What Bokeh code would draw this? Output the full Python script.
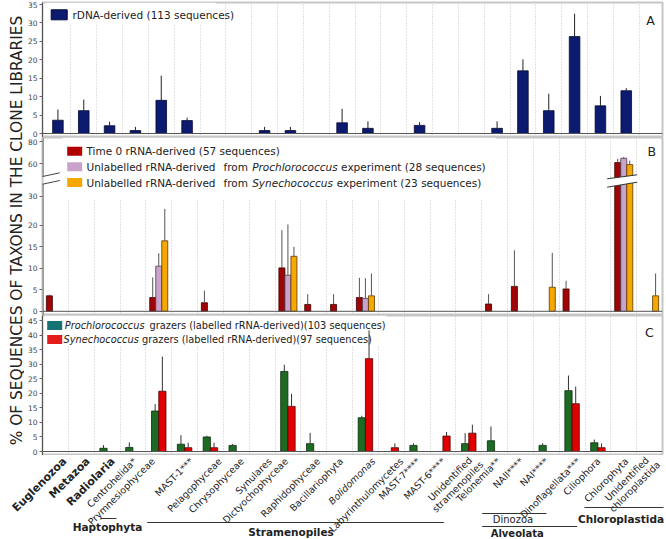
import numpy as np
from bokeh.plotting import figure
from bokeh.layouts import column, row
from bokeh.models import Range1d, FixedTicker, ColumnDataSource, Span, Grid
from bokeh.core.properties import value
from bokeh.embed import file_html
from bokeh.resources import INLINE

# ---------------- data ----------------
categories = ["Euglenozoa", "Metazoa", "Radiolaria", "Centrohelida*", "Prymnesiophyceae",
              "MAST-1***", "Pelagophyceae", "Chrysophyceae", "Synulares", "Dictyochophyceae",
              "Raphidophyceae", "Bacillariophyta", "Bolidomonas", "Labyrinthulomycetes",
              "MAST-7****", "MAST-6****", "Unidentified\nstramenopiles", "Telonemia**",
              "NAII****", "NAI****", "Dinoflagellata***", "Ciliophora", "Chlorophyta",
              "Unidentified\nchloroplastida"]
bold_labels = ["Euglenozoa", "Metazoa", "Radiolaria"]
italic_labels = ["Bolidomonas"]

rdna_mean = [3.6, 6.2, 2.1, 0.8, 9.0, 3.5, 0, 0, 0.8, 0.8, 0, 2.9, 1.4, 0, 2.2, 0, 0, 1.4, 17.0, 6.2, 26.3, 7.5, 11.6, 0]
rdna_sd = [2.9, 3.0, 1.1, 1.0, 6.7, 0.8, 0, 0, 1.0, 1.0, 0, 3.8, 1.9, 0, 0.9, 0, 0, 1.9, 3.1, 4.6, 6.2, 2.7, 0.7, 0]

time0_mean = [3.6, 0, 0, 0, 3.2, 0, 2.0, 0, 0, 10.1, 1.6, 1.6, 3.2, 0, 0, 0, 0, 1.7, 5.8, 0, 5.2, 0, 60.9, 0]
time0_sd = [0.3, 0, 0, 0, 4.7, 0, 2.8, 0, 0, 8.8, 2.4, 2.4, 4.6, 0, 0, 0, 0, 2.3, 8.4, 0, 1.9, 0, 3.6, 0]
unl_pro_mean = [0, 0, 0, 0, 10.5, 0, 0, 0, 0, 8.4, 0, 0, 3.0, 0, 0, 0, 0, 0, 0, 0, 0, 0, 64.8, 0]
unl_pro_sd = [0, 0, 0, 0, 3.0, 0, 0, 0, 0, 11.9, 0, 0, 4.7, 0, 0, 0, 0, 0, 0, 0, 0, 0, 1.2, 0]
unl_syn_mean = [0, 0, 0, 0, 16.4, 0, 0, 0, 0, 12.8, 0, 0, 3.6, 0, 0, 0, 0, 0, 0, 5.6, 0, 0, 59.1, 3.6]
unl_syn_sd = [0, 0, 0, 0, 9.3, 0, 0, 0, 0, 2.2, 0, 0, 5.2, 0, 0, 0, 0, 0, 0, 8.0, 0, 0, 3.6, 5.2]

graz_pro_mean = [0, 0, 1.1, 1.4, 13.9, 2.5, 5.0, 2.1, 0, 27.5, 2.7, 0, 11.6, 0, 2.1, 0, 2.7, 3.7, 0, 2.1, 20.9, 3.0, 0, 0]
graz_pro_sd = [0, 0, 1.1, 1.7, 2.4, 3.1, 0.4, 0.5, 0, 2.3, 3.7, 0, 0.7, 0, 0.7, 0, 3.6, 4.9, 0, 0.7, 5.2, 1.1, 0, 0]
graz_syn_mean = [0, 0, 0, 0, 20.7, 1.3, 1.3, 0, 0, 15.5, 0, 0, 31.9, 1.3, 0, 5.3, 6.3, 0, 0, 0, 16.4, 1.3, 0, 0]
graz_syn_sd = [0, 0, 0, 0, 11.9, 1.7, 1.7, 0, 0, 4.3, 0, 0, 9.7, 1.5, 0, 1.4, 2.9, 0, 0, 0, 5.9, 1.5, 0, 0]

ticks_A = [0, 5, 10, 15, 20, 25, 30, 35]
ticks_B = [0, 5, 10, 15, 20, 30, 60, 80]
ticks_C = [0, 5, 10, 15, 20, 25, 30, 35, 40, 45]

y_title = "% OF SEQUENCES OF TAXONS IN THE CLONE LIBRARIES"

# broken axis of panel B (value -> display units)
B_KNOTS_V = [0, 20, 30, 60, 80]
B_KNOTS_D = [0, 86.7, 116, 149, 171.3]


def bmap(v):
    return float(np.interp(v, B_KNOTS_V, B_KNOTS_D))


FONT = "DejaVu Sans"
FW = 620                 # frame width (px)
CW = FW / 24.0           # px per category
XL = 42                  # frame left (px in page)
TW = 24                  # width of the title strip


def txt(p, x, y, s, size, style="normal", align="left", color="#222222", baseline="middle", angle=0.0, px=True):
    kw = dict(x_range_name="px", y_range_name="px") if px else {}
    p.text(x=[x], y=[y], text=[s], angle=angle, text_font=value(FONT), text_font_size=value(size),
           text_font_style=value(style), text_align=value(align), text_baseline=value(baseline),
           text_color=color, **kw)


def make_panel(h, top_border, fh, xr, yr, ticks, overrides=None, axis_line=True):
    p = figure(width=664 - TW, height=h, x_range=xr, y_range=yr, output_backend="svg",
               toolbar_location=None, x_axis_location=None, y_axis_location="left",
               min_border_left=XL - TW, min_border_right=2, min_border_top=top_border, min_border_bottom=0)
    p.extra_x_ranges = {"px": Range1d(0, FW)}
    p.extra_y_ranges = {"px": Range1d(0, fh)}
    p.grid.visible = False
    p.add_layout(Grid(dimension=0, ticker=FixedTicker(ticks=list(range(1, 24))),
                      grid_line_color="#c4c4c4", grid_line_dash="1 2", grid_line_width=1))
    ya = p.yaxis[0]
    ya.ticker = FixedTicker(ticks=ticks)
    if overrides:
        ya.major_label_overrides = overrides
    ya.major_label_text_font = FONT
    ya.major_label_text_font_size = "7.5px"
    ya.major_label_text_color = "#444444"
    ya.minor_tick_line_color = None
    ya.major_tick_in = 0
    ya.major_tick_out = 3
    ya.major_tick_line_color = "#666666"
    ya.major_label_standoff = 2
    ya.axis_line_color = "#555555" if axis_line else None
    p.outline_line_color = "#c6c6c6"
    p.outline_line_width = 2
    p.background_fill_color = "white"
    p.border_fill_color = "white"
    p.add_layout(Span(location=0, dimension="width", line_color="#555555", line_width=1))
    return p


def bars(p, off, width, means, sds, fill, line, err, f=lambda v: v):
    idx = [i for i, m in enumerate(means) if m > 0]
    src = ColumnDataSource(dict(x=[i + 0.5 + off for i in idx],
                                top=[f(means[i]) for i in idx],
                                etop=[f(means[i] + sds[i]) for i in idx]))
    p.vbar(x="x", width=width, top="top", bottom=0, source=src, fill_color=fill,
           line_color=line, line_width=0.8)
    p.segment(x0="x", y0="top", x1="x", y1="etop", source=src, line_color=err, line_width=1)


def quad_px(p, l, r, t, b, fill, line=None):
    p.quad(left=[l], right=[r], top=[t], bottom=[b], fill_color=fill, line_color=line,
           x_range_name="px", y_range_name="px")


# ---------------- panel A (page y 2..137) ----------------
ppuA = 129 / 35
pA = make_panel(137, 2, 135, Range1d(-0.097, 23.903), Range1d(-4 / ppuA, 35 + 2 / ppuA), ticks_A)
A0 = 137  # page y of frame bottom
quad_px(pA, 45 - XL, 215 - XL, 135, A0 - 24.5, "white")
bars(pA, 0, 0.41, rdna_mean, rdna_sd, "#0c1a70", "#050a30", "#222222")
quad_px(pA, 50.7 - XL, 66.7 - XL, A0 - 9.3, A0 - 19.3, "#0c1a70", "#050a30")
txt(pA, 72 - XL, A0 - 14.5, "rDNA-derived (113 sequences)", "10.5px")
txt(pA, 650 - XL, A0 - 19.5, "A", "12.5px", align="center")

# ---------------- panel B (page y 137..315) ----------------
B0 = 315
ppuB = 169.8 / 171.3
tb = [round(bmap(t), 3) for t in ticks_B]
pB = make_panel(178, 0, 178, Range1d(0, 24), Range1d(-4.2 / ppuB, 171.3 + 4.0 / ppuB), tb,
                overrides={v: str(t) for v, t in zip(tb, ticks_B)}, axis_line=False)
quad_px(pB, 62 - XL, 495 - XL, 178, B0 - 198, "white")
bars(pB, -0.233, 0.233, time0_mean, time0_sd, "#a10404", "#3a0000", "#555555", bmap)
bars(pB, 0.0, 0.233, unl_pro_mean, unl_pro_sd, "#c9a3c9", "#4a3a4a", "#555555", bmap)
bars(pB, 0.233, 0.233, unl_syn_mean, unl_syn_sd, "#f6a800", "#5a3a00", "#555555", bmap)
# break on the tall bars
pB.patch(x=[606.7 - XL, 636.7 - XL, 636.7 - XL, 606.7 - XL],
         y=[B0 - 178.3, B0 - 174.3, B0 - 181.7, B0 - 186.7],
         fill_color="white", line_color=None, x_range_name="px", y_range_name="px")
pB.segment(x0=[606.7 - XL, 606.7 - XL], y0=[B0 - 178.3, B0 - 186.7], x1=[636.7 - XL, 636.7 - XL],
           y1=[B0 - 174.3, B0 - 181.7], line_color="#333333", line_width=1,
           x_range_name="px", y_range_name="px")
# axis line with break
pB.segment(x0=[0.5, 0.5], y0=[0, B0 - 176.0], x1=[0.5, 0.5], y1=[B0 - 183.7, 178],
           line_color="#555555", line_width=1, x_range_name="px", y_range_name="px")
pB.segment(x0=[36 - XL, 36 - XL], y0=[B0 - 177.3, B0 - 185], x1=[59.3 - XL, 59.3 - XL],
           y1=[B0 - 172.3, B0 - 180], line_color="#444444", line_width=1,
           x_range_name="px", y_range_name="px")
# legend B
for yc, col in zip([150.7, 166.3, 182], ["#b00000", "#c9a3c9", "#f8a602"]):
    quad_px(pB, 66.7 - XL, 81.7 - XL, B0 - (yc - 4.5), B0 - (yc + 4.5), col)
txt(pB, 86 - XL, B0 - 150.7, "Time 0 rRNA-derived (57 sequences)", "10.5px")
txt(pB, 86 - XL, B0 - 166.3, "Unlabelled rRNA-derived", "10.5px")
txt(pB, 223 - XL, B0 - 166.3, "from", "10.5px")
txt(pB, 251.7 - XL, B0 - 166.3, "Prochlorococcus", "10.5px", style="italic")
txt(pB, 340.6 - XL, B0 - 166.3, "experiment (28 sequences)", "10.5px")
txt(pB, 86 - XL, B0 - 182, "Unlabelled rRNA-derived", "10.5px")
txt(pB, 223 - XL, B0 - 182, "from", "10.5px")
txt(pB, 251.7 - XL, B0 - 182, "Synechococcus", "10.5px", style="italic")
txt(pB, 336.2 - XL, B0 - 182, "experiment (23 sequences)", "10.5px")
txt(pB, 651.3 - XL, B0 - 151.2, "B", "12.5px", align="center")

# ---------------- panel C (page y 315..455) ----------------
C0 = 455
ppuC = 131 / 45
pC = make_panel(140, 0, 140, Range1d(0, 24), Range1d(-4 / ppuC, 45 + 5 / ppuC), ticks_C)
quad_px(pC, 44 - XL, 386 - XL, 140, C0 - 345, "white")
bars(pC, -0.14, 0.28, graz_pro_mean, graz_pro_sd, "#1d6b22", "#0a2a0c", "#333333")
bars(pC, 0.14, 0.28, graz_syn_mean, graz_syn_sd, "#e10000", "#500000", "#333333")
for yc, col in zip([325, 339], ["#157373", "#e41b1b"]):
    quad_px(pC, 46.7 - XL, 61.7 - XL, C0 - (yc - 4.5), C0 - (yc + 4.5), col)
txt(pC, 64.3 - XL, C0 - 325, "Prochlorococcus", "9.8px", style="italic")
txt(pC, 149 - XL, C0 - 325, "grazers (labelled rRNA-derived)(103 sequences)", "9.8px")
txt(pC, 63 - XL, C0 - 339, "Synechococcus", "9.8px", style="italic")
txt(pC, 141.5 - XL, C0 - 339, "grazers (labelled rRNA-derived)(97 sequences)", "9.8px")
txt(pC, 648.8 - XL, C0 - 331.8, "C", "12.5px", align="center")

# ---------------- y title ----------------
pT = figure(width=TW, height=455, x_range=Range1d(0, TW), y_range=Range1d(0, 455), output_backend="svg",
            toolbar_location=None, x_axis_location=None, y_axis_location=None, min_border=0)
pT.outline_line_color = None
pT.grid.visible = False
txt(pT, 16, 455 - 230, y_title, "15.4px", align="center", baseline="alphabetic",
    angle=np.pi / 2, px=False)

# ---------------- bottom labels (page y 455..538) ----------------
LB = 538
pL = figure(width=664, height=83, x_range=Range1d(-XL / CW, (664 - XL) / CW), y_range=Range1d(0, 83),
            output_backend="svg", toolbar_location=None, x_axis_location=None, y_axis_location=None,
            min_border=0)
pL.outline_line_color = None
pL.grid.visible = False

label_dx = [9.3, 6.8, 6.0, 1.9, -5.6, 6.9, 9.5, 6.0, 7.9, -1.6, 4.6, 1.8, 8.0, 10.2, 1.4, 0.6, 1.5, 4.0,
            1.2, 0.4, 6.6, 0.8, 3.0, -2.5]
LAB_Y = 459.0
A45 = np.pi / 4
for i, name in enumerate(categories):
    if name in bold_labels:
        style, size = "bold", "11px"
    elif name in italic_labels:
        style, size = "italic", "9.5px"
    else:
        style, size = "normal", "9.5px"
    xa = i + 0.5 + label_dx[i] / CW
    lines = name.split("\n")
    if len(lines) == 1:
        txt(pL, xa, LB - LAB_Y, name, size, style=style, align="right", angle=A45, px=False)
    else:
        txt(pL, xa, LB - (LAB_Y - 1.0), lines[0], size, style=style, align="right", angle=A45, px=False)
        txt(pL, xa + 11.2 / CW, LB - (LAB_Y - 1.0 + 4.4), lines[1], size, style=style, align="right",
            angle=A45, px=False)


def cx(x):
    return (x - XL) / CW


group_lines = [(100, 116, 518), (146.7, 443.3, 522), (481.7, 546, 513), (481.7, 576.7, 526), (584, 663, 507)]
pL.segment(x0=[cx(a) for a, b, y in group_lines], x1=[cx(b) for a, b, y in group_lines],
           y0=[LB - y for a, b, y in group_lines], y1=[LB - y for a, b, y in group_lines],
           line_color="#333333", line_width=1.2)
group_text = [("Haptophyta", 107, 526, "bold", "10.5px"), ("Stramenopiles", 290.5, 531, "bold", "10.5px"),
              ("Dinozoa", 512.5, 519, "normal", "10px"), ("Alveolata", 516.7, 532.5, "bold", "10px"),
              ("Chloroplastida", 620.5, 518, "bold", "10.5px")]
for s, x, y, st, sz in group_text:
    txt(pL, cx(x), LB - y, s, sz, style=st, align="center", px=False)

layout = column(row(pT, column(pA, pB, pC)), pL)
open("out.html", "w").write(file_html(layout, INLINE))
